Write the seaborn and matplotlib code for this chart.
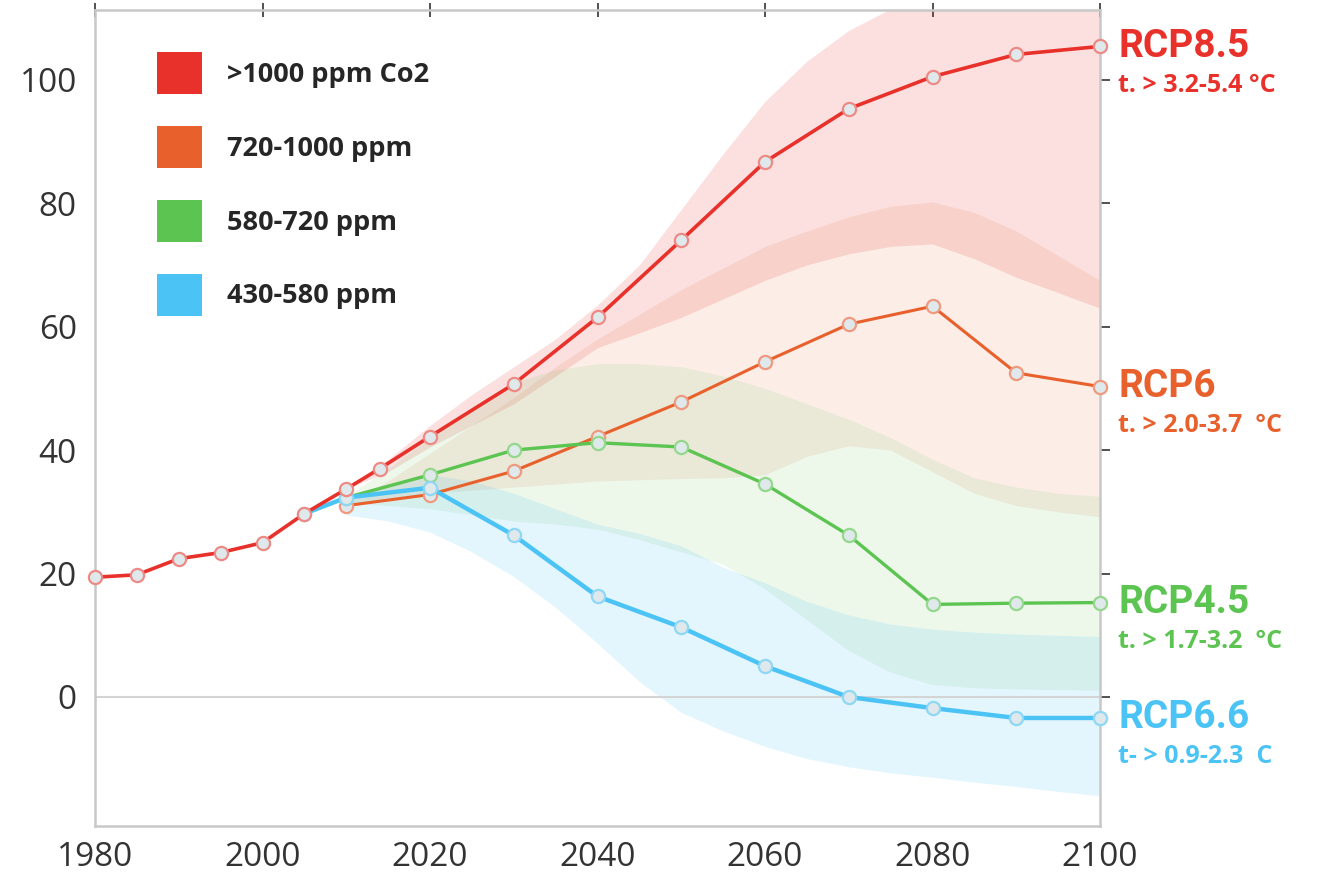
import numpy as np
import pandas as pd
import matplotlib
matplotlib.use("Agg")
import matplotlib.pyplot as plt
from matplotlib.patches import Patch
import matplotlib.transforms as mtransforms
import seaborn as sns

# ---------------- data ----------------
hist_years = [1980, 1985, 1990, 1995, 2000, 2005, 2010]
hist_vals = [19.4, 19.8, 22.4, 23.4, 25.0, 29.7, 33.7]

rcp85_years = [2010, 2014, 2020, 2030, 2040, 2050, 2060, 2070, 2080, 2090, 2100]
rcp85_vals = [33.7, 37.0, 42.2, 50.7, 61.5, 74.0, 86.7, 95.3, 100.5, 104.1, 105.4]

rcp6_years = [2010, 2020, 2030, 2040, 2050, 2060, 2070, 2080, 2090, 2100]
rcp6_vals = [31.0, 32.8, 36.6, 42.2, 47.8, 54.3, 60.4, 63.3, 52.5, 50.3]

rcp45_years = [2010, 2020, 2030, 2040, 2050, 2060, 2070, 2080, 2090, 2100]
rcp45_vals = [32.3, 36.0, 40.0, 41.2, 40.5, 34.5, 26.2, 15.0, 15.2, 15.3]

rcp26_years = [2005, 2010, 2020, 2030, 2040, 2050, 2060, 2070, 2080, 2090, 2100]
rcp26_vals = [29.7, 32.3, 33.9, 26.2, 16.3, 11.3, 5.0, 0.0, -1.8, -3.4, -3.4]

band_years = [2010, 2015, 2020, 2025, 2030, 2035, 2040, 2045, 2050, 2055, 2060,
              2065, 2070, 2075, 2080, 2085, 2090, 2095, 2100]
red_lo = [33.7, 36.5, 40.5, 44.0, 47.5, 52.0, 56.6, 59.0, 61.5, 64.5, 67.5,
          70.0, 71.8, 73.0, 73.4, 71.0, 68.0, 65.5, 63.0]
red_hi = [34.0, 38.5, 44.0, 49.0, 53.5, 58.0, 63.5, 70.0, 79.0, 88.0, 96.5,
          103.0, 108.0, 111.5, 114.5, 117.0, 118.5, 119.5, 120.0]
orange_lo = [30.8, 32.0, 33.0, 33.5, 34.0, 34.5, 35.0, 35.2, 35.4, 35.5, 36.0,
             39.0, 40.7, 40.0, 36.5, 33.0, 31.0, 30.0, 29.2]
orange_hi = [31.5, 35.0, 39.5, 44.0, 48.5, 53.5, 58.0, 62.0, 66.0, 69.5, 73.0,
             75.5, 77.8, 79.5, 80.2, 78.5, 75.5, 71.5, 67.5]
green_lo = [31.5, 31.0, 30.5, 29.5, 28.5, 28.0, 27.2, 25.5, 23.5, 21.5, 17.5,
            12.5, 7.5, 4.0, 2.0, 1.5, 1.3, 1.2, 1.1]
green_hi = [32.5, 37.0, 42.0, 47.0, 51.0, 53.0, 54.0, 54.0, 53.5, 52.0, 50.0,
            47.5, 45.0, 42.0, 38.5, 35.5, 34.0, 33.0, 32.5]
blue_lo = [29.5, 28.5, 26.7, 23.5, 19.5, 14.5, 8.7, 2.5, -2.5, -5.5, -8.0,
           -10.0, -11.3, -12.3, -13.0, -13.8, -14.5, -15.3, -16.0]
blue_hi = [32.5, 34.5, 36.0, 35.0, 33.0, 30.5, 28.0, 26.5, 24.5, 21.0, 18.5,
           15.5, 13.3, 11.8, 11.0, 10.5, 10.2, 10.0, 9.8]

legend_labels = [">1000 ppm Co2", "720-1000 ppm", "580-720 ppm", "430-580 ppm"]
scenario_names = ["RCP8.5", "RCP6", "RCP4.5", "RCP6.6"]
scenario_temps = ["t. > 3.2-5.4 °C", "t. > 2.0-3.7  °C", "t. > 1.7-3.2  °C", "t- > 0.9-2.3  C"]

x_ticks = [1980, 2000, 2020, 2040, 2060, 2080, 2100]
y_ticks = [0, 20, 40, 60, 80, 100]

# ---------------- style ----------------
RED = "#E8312A"
ORANGE = "#E8602C"
GREEN = "#5CC451"
BLUE = "#4CC3F5"
FACE = "#dfe8ea"

sns.set_style("white")
plt.rcParams["font.family"] = ["Open Sans", "DejaVu Sans"]

fig = plt.figure(figsize=(13.17, 8.88), dpi=100)
ax = fig.add_axes([95 / 1317, 62 / 888, 1005 / 1317, 816 / 888])

# bands
bands = [(red_lo, red_hi, RED, 0.15), (orange_lo, orange_hi, ORANGE, 0.11),
         (green_lo, green_hi, GREEN, 0.11), (blue_lo, blue_hi, BLUE, 0.15)]
for lo, hi, col, a in bands:
    ax.fill_between(band_years, lo, hi, color=col, alpha=a, linewidth=0, zorder=1)

ax.axhline(0, color="#d4d4d4", lw=1.5, zorder=1.5)

def series(years, vals, col, edge, lw, z):
    df = pd.DataFrame({"year": years, "value": vals})
    sns.lineplot(data=df, x="year", y="value", ax=ax, color=col, lw=lw,
                 marker="o", markersize=9.5, markerfacecolor=FACE,
                 markeredgecolor=edge, markeredgewidth=1.6, zorder=z,
                 clip_on=False, estimator=None, sort=False)

series(rcp6_years, rcp6_vals, ORANGE, "#ef9a80", 2.2, 3)
series(rcp45_years, rcp45_vals, GREEN, "#94d88d", 2.4, 4)
series(rcp26_years, rcp26_vals, BLUE, "#8ed7f5", 3.2, 5)
series(hist_years + rcp85_years[1:], hist_vals + rcp85_vals[1:], RED, "#ee8a85", 2.6, 6)

ax.set_xlim(1980, 2100)
ax.set_ylim(-20.9, 111.3)
ax.set_xticks(x_ticks)
ax.set_yticks(y_ticks)
ax.set_xlabel("")
ax.set_ylabel("")
ax.tick_params(axis="x", labelsize=24, colors="#333333", direction="inout",
               length=10, width=1.2, top=True, pad=6)
ax.tick_params(axis="y", labelsize=24, colors="#333333", direction="out",
               length=7, width=1.2, right=True, pad=6)
for sp in ax.spines.values():
    sp.set_visible(True)
    sp.set_color("#c8c8c8")
    sp.set_linewidth(1.8)

# legend
handles = [Patch(facecolor=c, edgecolor="none") for c in [RED, ORANGE, GREEN, BLUE]]
leg = ax.legend(handles, legend_labels, loc="upper left",
                bbox_to_anchor=(0.062, 0.948), frameon=False,
                prop={"weight": "bold", "size": 19.5},
                handlelength=1.66, handleheight=2.0, labelspacing=1.18,
                handletextpad=0.92, borderpad=0, borderaxespad=0)

# right-side labels
trans = mtransforms.blended_transform_factory(ax.transAxes, ax.transData)
ends = [rcp85_vals[-1], rcp6_vals[-1], rcp45_vals[-1], rcp26_vals[-1]]
for name, temp, yv, col in zip(scenario_names, scenario_temps, ends,
                               [RED, ORANGE, GREEN, BLUE]):
    ax.annotate(name, xy=(1.018, yv), xycoords=trans, xytext=(0, 0),
                textcoords="offset points", ha="left", va="center",
                fontsize=28, fontweight="bold", color=col,
                family=["Roboto", "DejaVu Sans"], annotation_clip=False)
    ax.annotate(temp, xy=(1.018, yv), xycoords=trans, xytext=(0, -28),
                textcoords="offset points", ha="left", va="center",
                fontsize=18, fontweight="bold", color=col,
                family=["Open Sans", "DejaVu Sans"], annotation_clip=False)

fig.savefig("out.png", dpi=100)
